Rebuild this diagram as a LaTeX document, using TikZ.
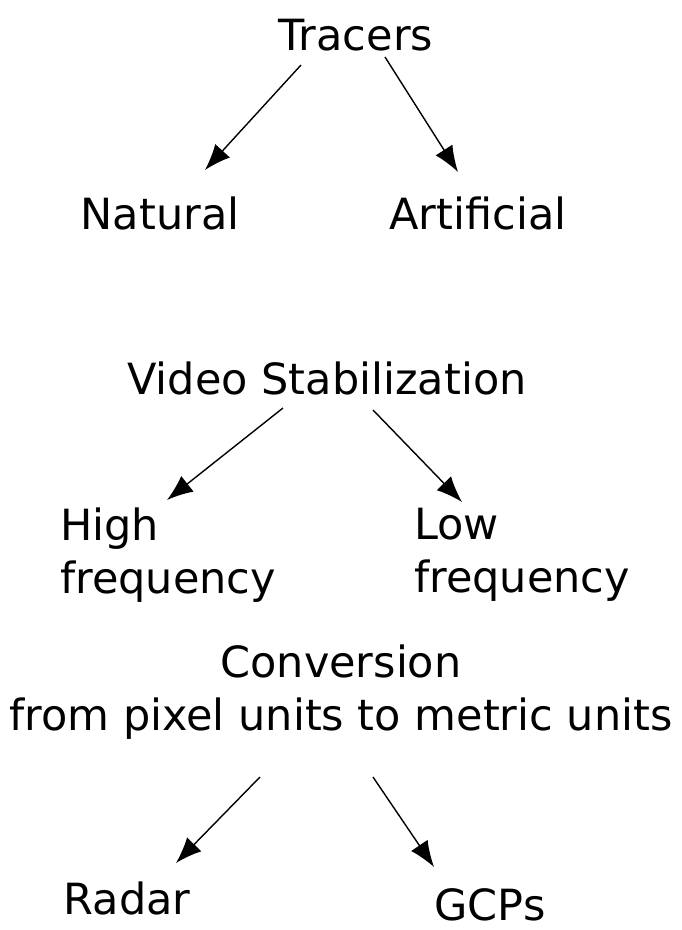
\documentclass[tikz,border=0pt]{standalone}
\usepackage{fontspec}
\setmainfont{DejaVu Sans}
\usetikzlibrary{arrows.meta}
\tikzset{
  word/.style={font=\fontsize{43}{53}\selectfont,inner sep=0pt},
  arr/.style={line width=1.4pt,-{Latex[length=26pt,width=20pt]}}
}
\begin{document}
\begin{tikzpicture}[x=1pt,y=-1pt]
  \useasboundingbox (0,0) rectangle (681,930);
  % tracers
  \node[word] (tracers) at (356,35) {Tracers};
  \node[word] (natural) at (160,213) {Natural};
  \node[word] (artificial) at (478,213) {Artificial};
  \draw[arr] ([shift={(-55,30)}]tracers.center) -- ([shift={(45,-43)}]natural.center);
  \draw[arr] ([shift={(29,22)}]tracers.center) -- ([shift={(-20,-41)}]artificial.center);
  % stabilization
  \node[word] (video) at (327,378) {Video Stabilization};
  \node[word,align=left] (high) at (168,555) {High\\frequency};
  \node[word,align=left] (low) at (522,555) {Low\\frequency};
  \draw[arr] ([shift={(-44,30)}]video.center) -- ([shift={(-1,-55)}]high.center);
  \draw[arr] ([shift={(46,32)}]video.center) -- ([shift={(-60,-53)}]low.center);
  % conversion
  \node[word,align=center] (conv) at (341,692) {Conversion\\from pixel units to metric units};
  \node[word] (radar) at (127,898) {Radar};
  \node[word] (gcps) at (490,905) {GCPs};
  \draw[arr] ([shift={(-81,85)}]conv.center) -- ([shift={(49,-35)}]radar.center);
  \draw[arr] ([shift={(32,85)}]conv.center) -- ([shift={(-56,-38)}]gcps.center);
\end{tikzpicture}
\end{document}
